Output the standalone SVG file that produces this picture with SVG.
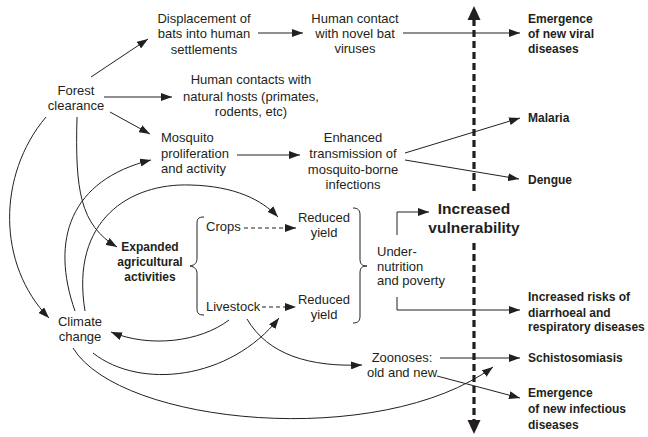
<svg xmlns="http://www.w3.org/2000/svg" width="648" height="437" viewBox="0 0 648 437">
<defs>
<marker id="ah" markerWidth="11" markerHeight="8" refX="11" refY="4" orient="auto" markerUnits="userSpaceOnUse">
<path d="M0,0 L11,4 L0,8 z" fill="#231f20"/>
</marker>
<style>
text{font-family:"Liberation Sans",Arial,sans-serif;font-size:13px;fill:#231f20}
.c{text-anchor:middle}
.b{font-weight:bold;font-size:12px}
.big{font-weight:bold;font-size:15.5px;text-anchor:middle}
.ln{fill:none;stroke:#231f20;stroke-width:1}
.ar{marker-end:url(#ah)}
.dsh{stroke-dasharray:4,3}
.axis{fill:none;stroke:#231f20;stroke-width:3.2;stroke-dasharray:7,4}
</style>
</defs>
<rect width="648" height="437" fill="#fff"/>

<g id="connectors">
<path class="axis" d="M474,19 V193"/>
<path class="axis" d="M474,243 V420"/>
<polygon points="474,6 467.5,20 480.5,20" fill="#231f20"/>
<polygon points="474,434 467.5,420 480.5,420" fill="#231f20"/>
<path class="ln ar" d="M258,33 L303,33"/>
<path class="ln ar" d="M403,33 L520,33"/>
<path class="ln ar" d="M91,77 L148,39"/>
<path class="ln ar" d="M104,97 L172,97"/>
<path class="ln ar" d="M110,112 L150,134"/>
<path class="ln ar" d="M237,155 L300,155"/>
<path class="ln ar" d="M405,153 L520,118"/>
<path class="ln ar" d="M405,160 L519,179"/>
<path class="ln ar" d="M397,235 V212 H429"/>
<path class="ln ar" d="M397,297 V310 H520"/>
<path class="ln ar" d="M440,358 L520,358"/>
<path class="ln ar" d="M437,376 L520,398"/>
<path class="ln ar dsh" d="M244,228 L296,228"/>
<path class="ln ar dsh" d="M262,307 L296,307"/>
<path class="ln ar" d="M46,117 C-3,175 -3,265 49,318"/>
<path class="ln ar" d="M77,117 C75,190 80,225 117,247"/>
<path class="ln ar" d="M75,311 C50,240 70,180 151,160"/>
<path class="ln ar" d="M85,311 C70,220 130,183 190,185 C235,186 262,200 278,217"/>
<path class="ln ar" d="M93,353 C140,390 230,380 279,318"/>
<path class="ln ar" d="M229,320 C200,342 150,348 111,332"/>
<path class="ln ar" d="M247,319 C268,355 310,367 362,365"/>
<path class="ln ar" d="M73,348 C120,425 380,450 493,367"/>
<path class="ln" d="M204,217 C198,217 197,219 197,224 L197,258 C197,263 195,265 190,266 C195,267 197,269 197,274 L197,308 C197,313 198,315 204,315"/>
<path class="ln" d="M353,208 C358,208 360,210 360,215 L360,259 C360,264 362,266 367,266 C362,266 360,268 360,273 L360,316 C360,321 358,323 353,323"/>
</g>

<g id="displacement"><text class="c" x="204" y="23">Displacement of</text><text class="c" x="204" y="38">bats into human</text><text class="c" x="204" y="54">settlements</text></g>
<g id="humancontact"><text class="c" x="355" y="23">Human contact</text><text class="c" x="355" y="38">with novel bat</text><text class="c" x="355" y="53">viruses</text></g>
<g id="emergenceviral"><text class="b" x="528" y="23">Emergence</text><text class="b" x="528" y="38">of new viral</text><text class="b" x="528" y="53">diseases</text></g>
<g id="forest"><text class="c" x="76" y="95">Forest</text><text class="c" x="76" y="110">clearance</text></g>
<g id="hosts"><text class="c" x="251" y="84">Human contacts with</text><text class="c" x="251" y="101">natural hosts (primates,</text><text class="c" x="251" y="116">rodents, etc)</text></g>
<g id="mosquito"><text x="161" y="142">Mosquito</text><text x="161" y="158">proliferation</text><text x="161" y="173">and activity</text></g>
<g id="enhanced"><text class="c" x="353" y="142">Enhanced</text><text class="c" x="353" y="158">transmission of</text><text class="c" x="353" y="174">mosquito-borne</text><text class="c" x="353" y="189">infections</text></g>
<g id="malaria"><text class="b" x="528" y="122">Malaria</text></g>
<g id="dengue"><text class="b" x="528" y="184">Dengue</text></g>
<g id="vulnerability"><text class="big" x="474" y="214">Increased</text><text class="big" x="474" y="233">vulnerability</text></g>
<g id="undernutrition"><text x="377" y="256">Under-</text><text x="377" y="271">nutrition</text><text x="377" y="285">and poverty</text></g>
<g id="expanded"><text class="c b" x="150" y="251">Expanded</text><text class="c b" x="150" y="266">agricultural</text><text class="c b" x="150" y="281">activities</text></g>
<g id="crops"><text x="206" y="231">Crops</text></g>
<g id="livestock"><text x="206" y="311">Livestock</text></g>
<g id="reduced1"><text class="c" x="324" y="222">Reduced</text><text class="c" x="324" y="237">yield</text></g>
<g id="reduced2"><text class="c" x="324" y="304">Reduced</text><text class="c" x="324" y="319">yield</text></g>
<g id="climate"><text class="c" x="80" y="326">Climate</text><text class="c" x="80" y="341">change</text></g>
<g id="risks"><text class="b" x="528" y="301">Increased risks of</text><text class="b" x="528" y="317">diarrhoeal and</text><text class="b" x="528" y="331">respiratory diseases</text></g>
<g id="zoonoses"><text class="c" x="402" y="362">Zoonoses:</text><text class="c" x="402" y="377">old and new</text></g>
<g id="schisto"><text class="b" x="528" y="362">Schistosomiasis</text></g>
<g id="emergenceinf"><text class="b" x="528" y="397">Emergence</text><text class="b" x="528" y="413">of new infectious</text><text class="b" x="528" y="429">diseases</text></g>
</svg>
